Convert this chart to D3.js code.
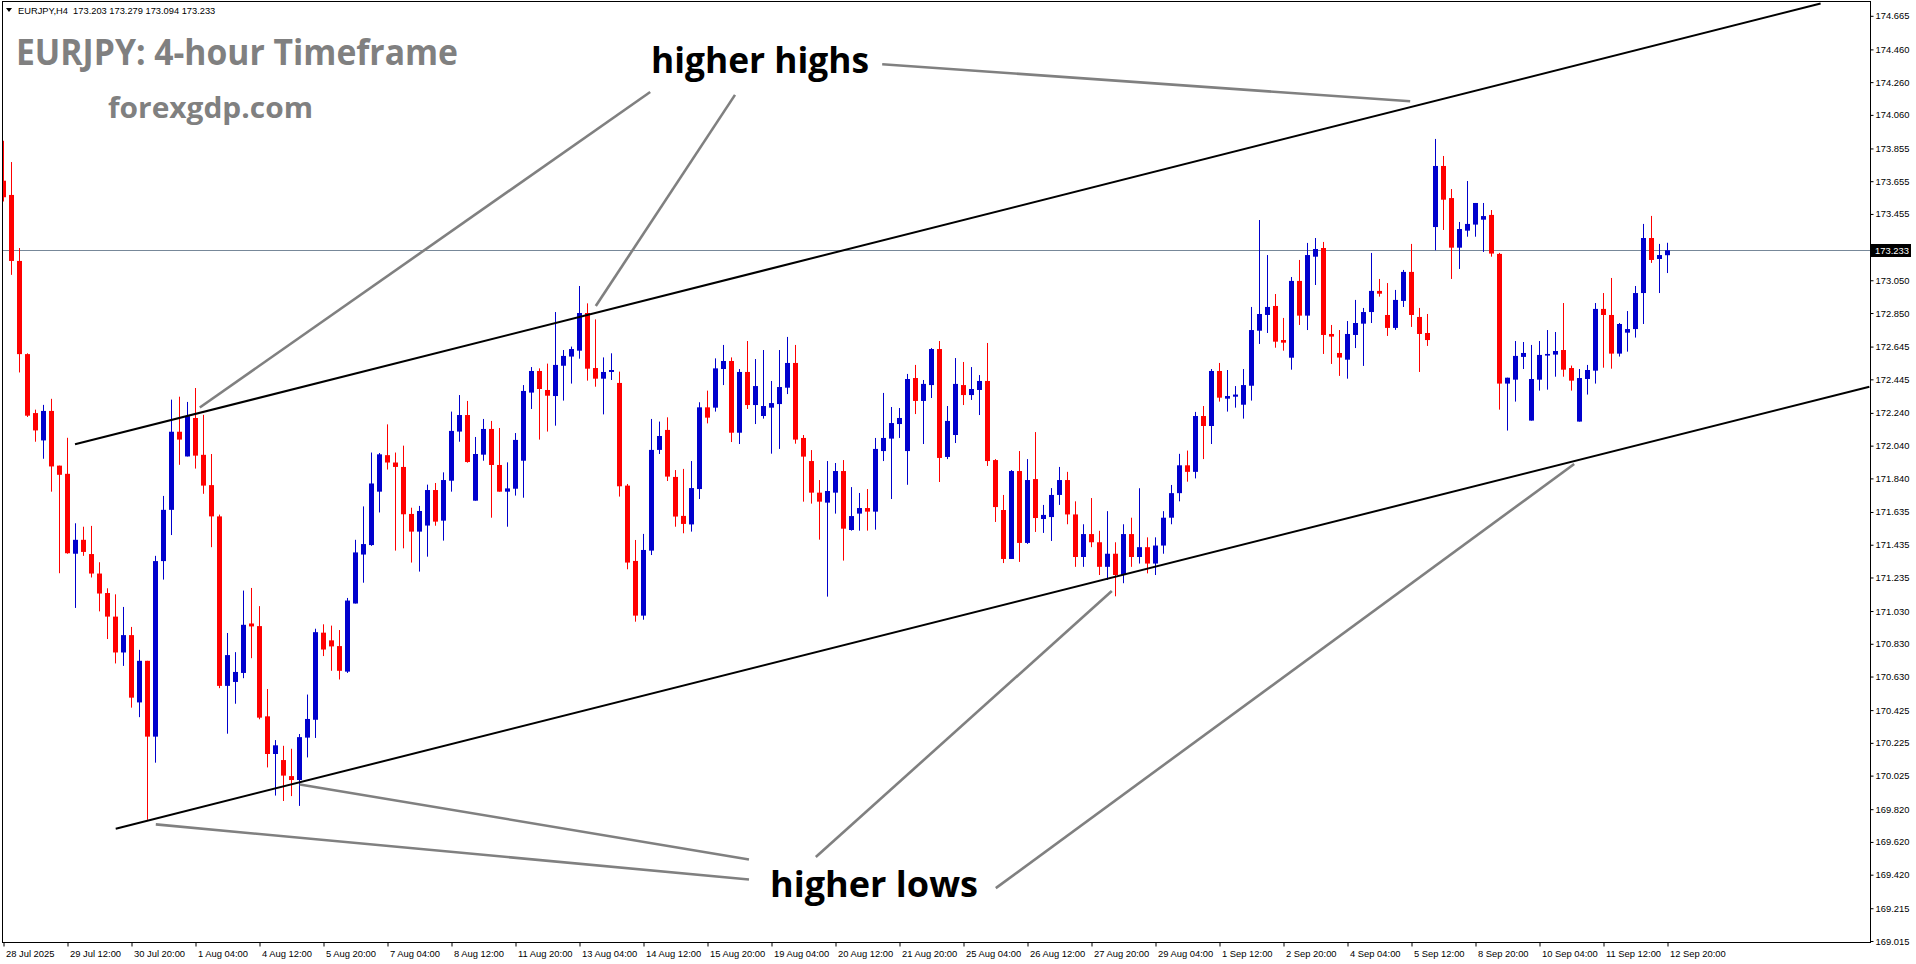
<!DOCTYPE html>
<html><head><meta charset="utf-8">
<script src="https://cdn.jsdelivr.net/npm/d3@7"></script>
<style>html,body{margin:0;padding:0;background:#fff;overflow:hidden}</style>
</head><body><svg id="c" width="1916" height="964"></svg>
<script>
// ---------------- DATA (EURJPY H4, 28 Jul 2025 04:00 .. 12 Sep 2025 20:00) ----------------
const openP = [
173.658,173.571,173.168,172.599,172.239,172.072,172.252,171.918,171.868,171.380,
171.465,171.378,171.259,171.140,170.996,170.777,170.883,170.472,170.726,170.263,
171.335,171.648,172.125,171.974,172.209,171.984,171.799,171.608,170.573,170.597,
170.652,170.954,170.938,170.387,170.157,170.120,170.022,169.998,170.257,170.366,
170.898,170.851,170.816,170.660,171.076,171.375,171.433,171.759,171.982,171.937,
171.910,171.623,171.515,171.552,171.769,171.582,171.826,172.126,172.227,171.704,
171.985,172.142,171.922,171.759,171.777,171.948,172.364,172.496,172.380,172.343,
172.528,172.584,172.620,172.850,172.514,172.449,172.490,172.423,171.796,171.336,
171.002,171.399,172.014,172.136,171.849,171.611,171.559,171.775,172.274,172.272,
172.508,172.557,172.119,172.490,172.288,172.221,172.272,172.294,172.394,172.545,
172.087,171.946,171.753,171.692,171.753,171.885,171.525,171.625,171.659,171.637,
172.007,172.083,172.172,172.007,172.453,172.313,172.410,172.630,171.971,172.105,
172.410,172.349,172.380,172.435,171.952,171.647,171.348,171.885,171.446,171.836,
171.592,171.604,171.739,171.830,171.620,171.360,171.500,171.450,171.300,171.380,
171.250,171.500,171.360,171.420,171.320,171.430,171.600,171.750,171.920,171.880,
172.221,172.160,172.496,172.327,172.339,172.290,172.406,172.742,172.838,172.893,
172.685,172.577,173.046,172.834,173.194,173.247,172.722,172.606,172.565,172.716,
172.785,172.856,172.985,172.838,172.759,172.924,173.101,172.826,172.728,173.375,
173.748,173.552,173.249,173.353,173.390,173.420,173.449,173.211,172.419,172.443,
172.582,172.193,172.443,172.590,172.596,172.624,172.514,172.187,172.447,172.498,
172.875,172.838,172.602,172.730,172.752,172.972,173.308,173.180,173.203];
const highP = [
173.902,173.772,173.247,172.604,172.260,172.289,172.326,171.918,172.088,171.566,
171.545,171.550,171.328,171.169,171.132,171.055,170.933,170.793,170.726,171.367,
171.733,172.321,172.339,172.307,172.392,172.228,171.989,171.619,170.896,170.779,
171.155,171.171,171.060,170.554,170.242,170.207,170.189,170.279,170.520,170.922,
170.949,170.941,170.914,171.110,171.465,171.669,171.998,171.995,172.170,171.998,
172.040,171.661,171.672,171.802,171.812,171.877,172.248,172.349,172.313,172.093,
172.203,172.191,172.148,171.938,172.117,172.410,172.520,172.512,172.541,172.856,
172.624,172.645,173.015,172.909,172.811,172.579,172.604,172.492,171.806,171.464,
171.501,172.203,172.187,172.213,171.891,171.898,171.946,172.305,172.376,172.573,
172.655,172.579,172.508,172.679,172.569,172.624,172.435,172.624,172.704,172.655,
172.105,172.013,171.830,171.946,171.934,171.952,171.787,171.751,171.775,172.087,
172.362,172.276,172.270,172.478,172.533,172.441,172.636,172.679,172.282,172.575,
172.551,172.520,172.471,172.667,171.958,171.739,171.891,172.007,171.958,172.123,
171.678,171.781,171.910,171.880,171.700,171.560,171.720,171.520,171.640,171.450,
171.560,171.600,171.780,171.480,171.480,171.640,171.800,171.990,172.010,172.246,
172.282,172.508,172.545,172.502,172.404,172.508,172.887,173.418,173.204,172.966,
172.820,173.070,173.174,173.278,173.308,173.284,172.777,172.746,172.801,172.930,
172.881,173.217,173.058,173.033,172.991,173.113,173.272,172.881,172.844,173.913,
173.809,173.607,173.406,173.656,173.522,173.522,173.479,173.217,172.455,172.679,
172.673,172.655,172.679,172.746,172.734,172.911,172.529,172.508,172.533,172.911,
172.972,173.064,172.789,172.862,173.015,173.394,173.443,173.272,173.279];
const lowP = [
173.531,173.083,172.487,172.215,172.064,171.960,171.759,171.261,171.380,171.049,
171.367,171.235,171.028,170.859,170.710,170.695,170.440,170.382,169.755,170.104,
171.222,171.494,171.923,171.974,171.900,171.746,171.420,170.559,170.281,170.464,
170.620,170.742,170.369,170.075,169.903,169.870,169.900,169.840,170.136,170.255,
170.755,170.665,170.612,170.652,171.076,171.203,171.428,171.632,171.894,171.399,
171.413,171.326,171.271,171.362,171.551,171.460,171.759,172.064,171.936,171.704,
171.948,171.600,171.759,171.545,171.735,171.722,172.264,172.077,172.126,172.162,
172.315,172.419,172.571,172.437,172.400,172.231,172.441,171.729,171.285,170.965,
170.977,171.372,171.989,171.824,171.545,171.505,171.515,171.714,172.176,172.248,
172.410,172.062,172.050,172.264,172.172,172.205,171.991,172.020,172.355,172.052,
171.698,171.686,171.466,171.118,171.625,171.338,171.521,171.521,171.521,171.527,
171.946,171.714,172.087,171.801,172.233,172.050,172.331,171.818,171.958,172.056,
172.288,172.319,172.227,171.916,171.574,171.323,171.348,171.330,171.440,171.513,
171.507,171.458,171.678,171.560,171.300,171.300,171.420,171.250,171.220,171.120,
171.200,171.300,171.320,171.260,171.250,171.380,171.560,171.700,171.820,171.840,
171.958,172.050,172.309,172.248,172.272,172.205,172.315,172.661,172.728,172.638,
172.620,172.504,172.777,172.746,173.021,172.600,172.539,172.466,172.449,172.636,
172.527,172.789,172.950,172.710,172.747,172.887,172.765,172.490,172.649,173.233,
173.357,173.058,173.119,173.316,173.316,173.223,173.194,172.260,172.132,172.309,
172.508,172.193,172.376,172.382,172.461,172.461,172.376,172.187,172.352,172.419,
172.516,172.510,172.584,172.614,172.700,172.783,173.156,172.972,173.094];
const closeP = [
173.557,173.168,172.599,172.223,172.133,172.252,171.913,171.862,171.383,171.465,
171.391,171.259,171.137,170.996,170.777,170.883,170.501,170.726,170.263,171.335,
171.648,172.125,172.077,172.220,171.979,171.796,171.608,170.573,170.761,170.658,
170.946,170.936,170.379,170.157,170.210,170.025,169.998,170.260,170.371,170.901,
170.795,170.814,170.665,171.094,171.388,171.439,171.809,171.987,171.937,171.910,
171.621,171.515,171.641,171.769,171.576,171.830,172.130,172.227,171.940,171.989,
172.142,171.922,171.759,171.779,172.075,172.374,172.496,172.386,172.345,172.533,
172.588,172.630,172.850,172.510,172.449,172.490,172.502,171.792,171.326,171.002,
171.403,172.014,172.099,171.851,171.607,171.562,171.781,172.274,172.211,172.512,
172.557,172.119,172.490,172.288,172.404,172.282,172.300,172.398,172.545,172.077,
171.973,171.753,171.698,171.763,171.885,171.533,171.610,171.659,171.637,172.020,
172.087,172.178,172.209,172.447,172.313,172.417,172.630,171.965,172.191,172.417,
172.349,172.386,172.435,171.946,171.665,171.348,171.885,171.446,171.830,171.598,
171.617,171.739,171.830,171.620,171.360,171.500,171.450,171.300,171.380,171.250,
171.500,171.360,171.420,171.320,171.430,171.600,171.750,171.920,171.880,172.221,
172.160,172.496,172.333,172.343,172.352,172.410,172.746,172.844,172.887,172.675,
172.669,173.046,172.834,173.204,173.241,172.716,172.706,172.578,172.722,172.789,
172.856,172.985,172.968,172.759,172.930,173.101,172.838,172.722,172.685,173.748,
173.542,173.249,173.363,173.394,173.522,173.442,173.213,172.419,172.455,172.588,
172.606,172.447,172.594,172.600,172.618,172.504,172.437,172.453,172.502,172.875,
172.838,172.602,172.783,172.752,172.972,173.308,173.174,173.204,173.233];

// x-axis labels: one every 8 bars (32 hours), starting at the first bar
const xTickLabels = ["28 Jul 2025","29 Jul 12:00","30 Jul 20:00","1 Aug 04:00","4 Aug 12:00","5 Aug 20:00",
"7 Aug 04:00","8 Aug 12:00","11 Aug 20:00","13 Aug 04:00","14 Aug 12:00","15 Aug 20:00","19 Aug 04:00",
"20 Aug 12:00","21 Aug 20:00","25 Aug 04:00","26 Aug 12:00","27 Aug 20:00","29 Aug 04:00","1 Sep 12:00",
"2 Sep 20:00","4 Sep 04:00","5 Sep 12:00","8 Sep 20:00","10 Sep 04:00","11 Sep 12:00","12 Sep 20:00"];
const xTickStep = 8;
const yTickValues = [169.015,169.215,169.420,169.620,169.820,170.025,170.225,170.425,170.630,170.830,
171.030,171.235,171.435,171.635,171.840,172.040,172.240,172.445,172.645,172.850,173.050,173.255,
173.455,173.655,173.855,174.060,174.260,174.460,174.665];
const lastPrice = 173.233;
const headerText = "EURJPY,H4  173.203 173.279 173.094 173.233";

// trend channel lines: [bar index, price]
const upperChannel = [[9, 172.048],[227.2, 174.740]];
const lowerChannel = [[14.09, 169.701],[233.3, 172.400]];
// annotation pointer lines: [bar index, price] -> [bar index, price]
const highPointers = [
  [[80.9,174.200],[24.6,172.273]],
  [[91.5,174.182],[74.1,172.893]],
  [[109.9,174.369],[175.9,174.143]]];
const lowPointers = [
  [[93.25,169.513],[37.1,169.971]],
  [[93.25,169.391],[19.1,169.727]],
  [[101.6,169.528],[138.6,171.152]],
  [[124.1,169.338],[196.4,171.928]]];

// ---------------- DRAW ----------------
const W = 1916, H = 964;
const plot = {left: 2, top: 1, right: 1870, bottom: 942};
const svg = d3.select("#c");
svg.append("rect").attr("width", W).attr("height", H).attr("fill", "#fff");

const n = openP.length;
const x = d3.scaleLinear().domain([0, n - 1]).range([3, 3 + 8 * (n - 1)]);
const y = d3.scaleLinear().domain([169.015, lastPrice]).range([941, 250.3]);

svg.append("defs").append("clipPath").attr("id", "clip")
  .append("rect").attr("x", plot.left + 1).attr("y", plot.top + 1)
  .attr("width", plot.right - plot.left - 1).attr("height", plot.bottom - plot.top - 1);

const BLUE = "#0000CD", RED = "#FF0000";
const gC = svg.append("g").attr("clip-path", "url(#clip)");

// current price line
gC.append("line").attr("x1", plot.left).attr("x2", plot.right)
  .attr("y1", Math.round(y(lastPrice)) + 0.5).attr("y2", Math.round(y(lastPrice)) + 0.5)
  .attr("stroke", "#778899").attr("stroke-width", 1);

// candles
const idx = d3.range(n);
const cg = gC.selectAll("g.c").data(idx).join("g").attr("class", "c");
cg.append("line")
  .attr("x1", i => Math.round(x(i)) + 0.5).attr("x2", i => Math.round(x(i)) + 0.5)
  .attr("y1", i => y(highP[i])).attr("y2", i => y(lowP[i]))
  .attr("stroke", i => closeP[i] >= openP[i] ? BLUE : RED).attr("stroke-width", 1);
cg.append("rect")
  .attr("x", i => Math.round(x(i)) - 2).attr("width", 5)
  .attr("y", i => Math.min(y(openP[i]), y(closeP[i])))
  .attr("height", i => Math.max(1, Math.abs(y(openP[i]) - y(closeP[i]))))
  .attr("fill", i => closeP[i] >= openP[i] ? BLUE : RED);

// channel lines
const line = d3.line().x(d => x(d[0])).y(d => y(d[1]));
[upperChannel, lowerChannel].forEach(c => {
  gC.append("path").attr("d", line(c)).attr("fill", "none")
    .attr("stroke", "#000").attr("stroke-width", 2);
});
// pointer lines
highPointers.concat(lowPointers).forEach(c => {
  gC.append("path").attr("d", line(c)).attr("fill", "none")
    .attr("stroke", "#808080").attr("stroke-width", 2.6);
});

// frame
svg.append("rect").attr("x", plot.left + 0.5).attr("y", plot.top + 0.5)
  .attr("width", plot.right - plot.left).attr("height", plot.bottom - plot.top)
  .attr("fill", "none").attr("stroke", "#000").attr("stroke-width", 1);

// right axis
const yAx = d3.axisRight(y)
  .tickValues(yTickValues.filter(v => Math.abs(y(v) - y(lastPrice)) > 9))
  .tickFormat(d3.format(".3f")).tickSize(3).tickPadding(2);
const gy = svg.append("g").attr("transform", `translate(${plot.right + 0.5},0)`).call(yAx);
gy.select(".domain").remove();
gy.selectAll("line").attr("stroke", "#000");
gy.selectAll("text").attr("font-family", "Liberation Sans, Arial, sans-serif")
  .attr("font-size", "9.4px").attr("fill", "#000");

// current price box
const py = Math.round(y(lastPrice));
svg.append("rect").attr("x", plot.right + 1).attr("y", py - 6).attr("width", 40).attr("height", 13).attr("fill", "#000");
svg.append("text").attr("x", plot.right + 5).attr("y", py + 4)
  .attr("font-family", "Liberation Sans, Arial, sans-serif").attr("font-size", "9.4px")
  .attr("fill", "#fff").text(d3.format(".3f")(lastPrice));

// bottom axis
const xAx = d3.axisBottom(x)
  .tickValues(xTickLabels.map((d, k) => k * xTickStep))
  .tickFormat((d, k) => xTickLabels[k]).tickSize(4).tickPadding(4);
const gx = svg.append("g").attr("transform", `translate(0.5,${plot.bottom + 0.5})`).call(xAx);
gx.select(".domain").remove();
gx.selectAll("line").attr("stroke", "#000");
gx.selectAll("text").attr("text-anchor", "start").attr("dx", "2px")
  .attr("font-family", "Liberation Sans, Arial, sans-serif").attr("font-size", "9.4px").attr("fill", "#000");

// header
svg.append("path").attr("d", "M6,8 L12,8 L9,12 Z").attr("fill", "#000");
svg.append("text").attr("x", 18).attr("y", 14).attr("xml:space", "preserve")
  .attr("font-family", "Liberation Sans, Arial, sans-serif").attr("font-size", "9.3px")
  .attr("fill", "#000").text(headerText);

// titles
svg.append("text").attr("x", 16).attr("y", 65)
  .attr("font-family", "Open Sans, sans-serif").attr("font-weight", 700).attr("font-size", "35px")
  .attr("fill", "#808080").attr("textLength", 442).attr("lengthAdjust", "spacingAndGlyphs")
  .text("EURJPY: 4-hour Timeframe");
svg.append("text").attr("x", 108).attr("y", 118)
  .attr("font-family", "Open Sans, sans-serif").attr("font-weight", 700).attr("font-size", "28px")
  .attr("fill", "#808080").attr("textLength", 205).attr("lengthAdjust", "spacingAndGlyphs")
  .text("forexgdp.com");
svg.append("text").attr("x", 651).attr("y", 73)
  .attr("font-family", "Open Sans, sans-serif").attr("font-weight", 700).attr("font-size", "36px")
  .attr("fill", "#000").attr("textLength", 218).attr("lengthAdjust", "spacingAndGlyphs")
  .text("higher highs");
svg.append("text").attr("x", 770).attr("y", 897)
  .attr("font-family", "Open Sans, sans-serif").attr("font-weight", 700).attr("font-size", "36px")
  .attr("fill", "#000").attr("textLength", 208).attr("lengthAdjust", "spacingAndGlyphs")
  .text("higher lows");
</script></body></html>
